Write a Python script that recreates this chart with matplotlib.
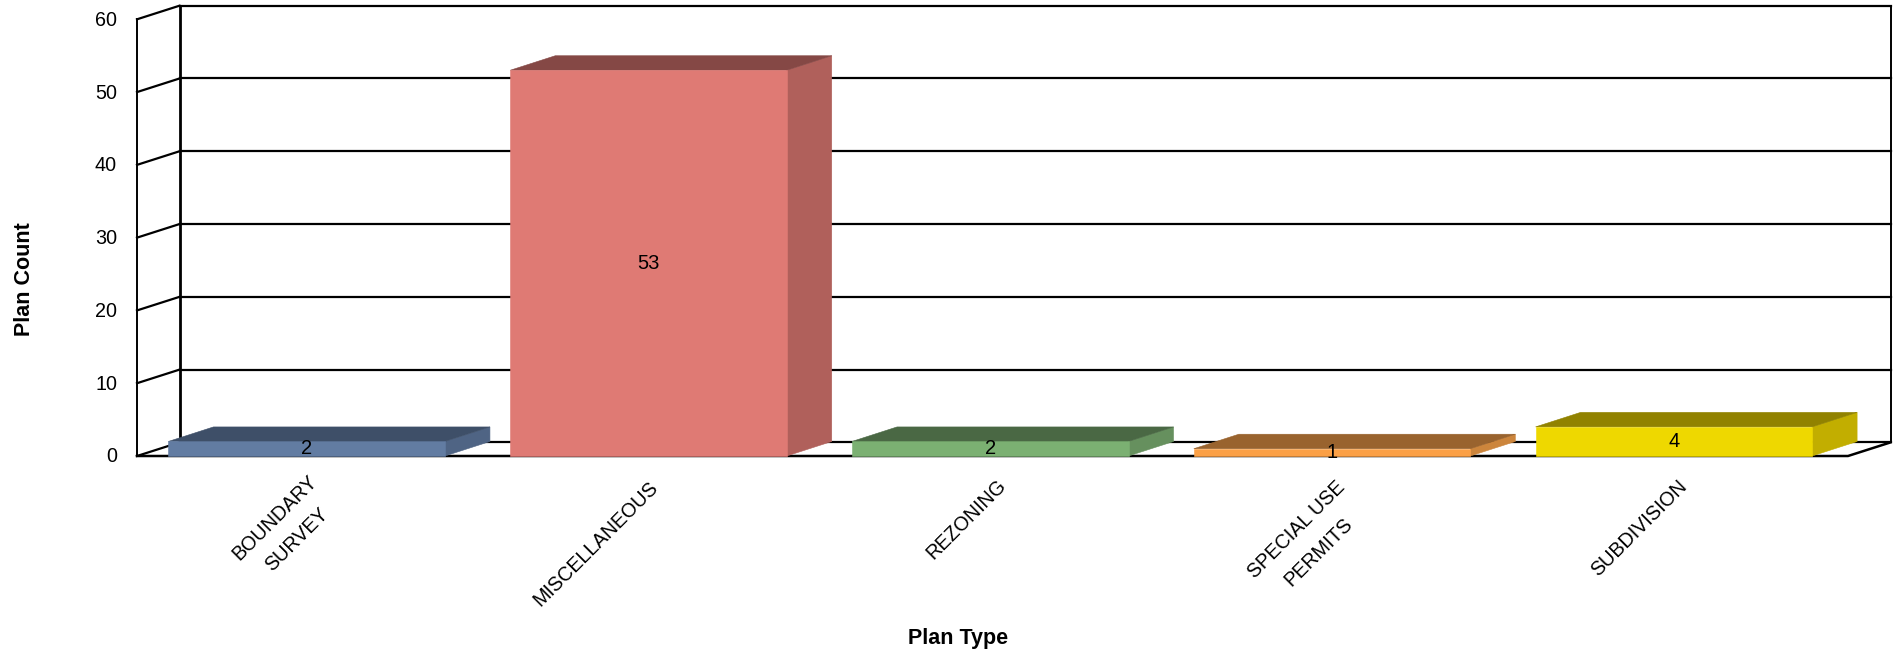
import matplotlib
matplotlib.use("Agg")
import matplotlib.pyplot as plt
from matplotlib.patches import Polygon

plt.rcParams['font.family'] = ['Liberation Sans', 'DejaVu Sans']

categories = ["BOUNDARY\nSURVEY", "MISCELLANEOUS", "REZONING", "SPECIAL USE\nPERMITS", "SUBDIVISION"]
counts = [2, 53, 2, 1, 4]
y_ticks = [0, 10, 20, 30, 40, 50, 60]
front_colors = ["#627CA2", "#DF7A74", "#7BB072", "#FBA046", "#EED800"]
top_colors = ["#3E4F68", "#854845", "#4A6844", "#99632E", "#918200"]
side_colors = ["#4F6484", "#B0605B", "#66905E", "#CC853C", "#C2AE00"]

# Pixel shift of each rotated category label from its slot on the baseline
label_shift_x = [-22, -54, -25, -26, -36]
label_shift_y = [-73, -88, -63, -85, -72]

W, H = 1894, 652
fig = plt.figure(figsize=(W / 100, H / 100), dpi=100, facecolor="white")

# Front plane of the 3D box, in pixels
left, right, bottom, top = 137, 1848, 456, 19.3
x_end = 4.506
ax = fig.add_axes([left / W, 1 - bottom / H, (right - left) / W, (bottom - top) / H])
ax.set_xlim(-0.5, x_end)
ax.set_ylim(0, 60)
ax.axis("off")

px_x = (x_end + 0.5) / (right - left)
px_y = 60 / (bottom - top)
wall_dx, wall_dy = 42.5 * px_x, 13.6 * px_y
bar_dx, bar_dy = 45 * px_x, 14.5 * px_y
bar_width = 276.5 * px_x
bar_shift = -1.2 * px_x

# Walls, floor and gridlines
for v in y_ticks:
    ax.plot([-0.5, -0.5 + wall_dx], [v, v + wall_dy], color="black", lw=1.6, clip_on=False, zorder=1)
    ax.plot([-0.5 + wall_dx, x_end + wall_dx], [v + wall_dy, v + wall_dy], color="black", lw=1.6,
            clip_on=False, zorder=1)
ax.plot([-0.5, -0.5], [0, 60], color="black", lw=1.4, clip_on=False, zorder=1)
ax.plot([-0.5 + wall_dx] * 2, [wall_dy, 60 + wall_dy], color="black", lw=2.0, clip_on=False, zorder=1)
ax.plot([x_end + wall_dx] * 2, [wall_dy, 60 + wall_dy], color="black", lw=1.4, clip_on=False, zorder=1)
ax.plot([-0.5, x_end, x_end + wall_dx], [0, 0, wall_dy], color="black", lw=1.8, clip_on=False, zorder=1)

# Bars with their top and side faces
for i, v in enumerate(counts):
    xc = i + bar_shift
    x0, x1 = xc - bar_width / 2, xc + bar_width / 2
    ax.add_patch(Polygon([(x1, 0), (x1 + bar_dx, bar_dy), (x1 + bar_dx, v + bar_dy), (x1, v)],
                         closed=True, fc=side_colors[i], ec=side_colors[i], lw=0.4, clip_on=False, zorder=3))
    ax.add_patch(Polygon([(x0, v), (x1, v), (x1 + bar_dx, v + bar_dy), (x0 + bar_dx, v + bar_dy)],
                         closed=True, fc=top_colors[i], ec=top_colors[i], lw=0.4, clip_on=False, zorder=3))
    ax.add_patch(Polygon([(x0, 0), (x1, 0), (x1, v), (x0, v)], closed=True, fc=front_colors[i],
                         ec=front_colors[i], lw=0.4, clip_on=False, zorder=3.5))
    ax.text(xc, v / 2, str(v), ha="center", va="center", fontsize=14.5, color="black", zorder=4)

# Tick labels
for v in y_ticks:
    ax.annotate(str(v), (-0.5, v), xytext=(-20, -1), textcoords="offset pixels",
                ha="right", va="center", fontsize=14.2, annotation_clip=False)
for i, name in enumerate(categories):
    ax.annotate(name, (i, 0), xytext=(label_shift_x[i], label_shift_y[i]), textcoords="offset pixels",
                rotation=45, ha="center", va="center", multialignment="center", linespacing=1.8,
                fontsize=14.2, annotation_clip=False)

# Axis titles
fig.text(958 / W, 1 - 638.5 / H, "Plan Type", ha="center", va="center", fontsize=15.5, fontweight="bold")
fig.text(24.5 / W, 1 - 279 / H, "Plan Count", ha="center", va="center", rotation=90,
         fontsize=15.5, fontweight="bold")

fig.savefig("out.png", dpi=100, facecolor="white")
